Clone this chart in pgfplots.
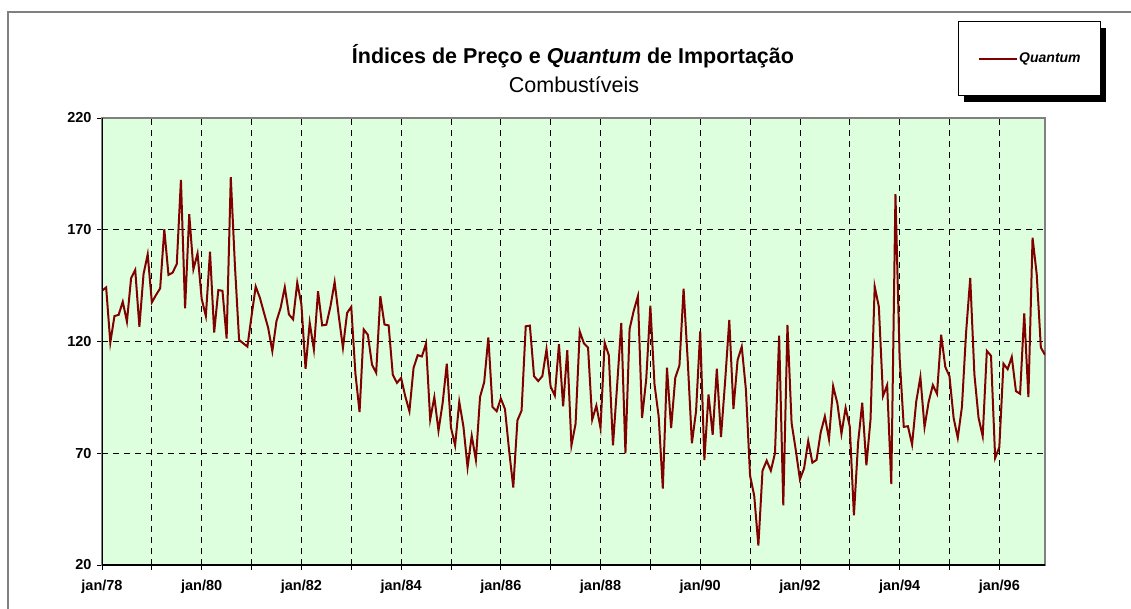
\documentclass[border=0pt]{standalone}
\usepackage{fontspec}
\setmainfont{Liberation Sans}
\usepackage{pgfplots}
\usepackage{pgfplotstable}
\pgfplotsset{compat=1.18}
\usetikzlibrary{shadows}
\definecolor{plotbg}{RGB}{221,255,221}
\definecolor{qred}{RGB}{128,0,0}
\definecolor{framegray}{RGB}{128,128,128}

% monthly index, jan/78 = 0
\pgfplotstableread{
m v
0 142.7
1 144.2
2 119.5
3 131.4
4 131.9
5 137.8
6 128.9
7 148.3
8 152.0
9 126.6
10 150.2
11 159.0
12 137.5
13 140.8
14 143.8
15 170.2
16 149.8
17 150.8
18 154.7
19 192.3
20 134.8
21 177.0
22 152.3
23 159.4
24 139.0
25 131.4
26 160.2
27 124.0
28 143.0
29 142.7
30 121.3
31 193.5
32 153.9
33 120.7
34 119.2
35 117.7
36 131.4
37 144.6
38 139.6
39 132.8
40 126.1
41 115.7
42 129.1
43 135.1
44 144.3
45 132.1
46 129.9
47 146.3
48 136.6
49 107.8
50 128.4
51 116.4
52 142.5
53 127.2
54 127.5
55 135.8
56 146.6
57 131.3
58 117.2
59 132.8
60 135.5
61 105.7
62 88.4
63 125.4
64 123.0
65 109.6
66 106.0
67 140.3
68 127.6
69 127.2
70 105.1
71 101.5
72 103.7
73 95.5
74 88.8
75 108.2
76 113.9
77 113.3
78 119.1
79 85.1
80 95.1
81 80.1
82 92.5
83 110.1
84 81.5
85 73.5
86 93.0
87 82.0
88 63.7
89 77.8
90 67.0
91 95.2
92 101.8
93 121.8
94 90.7
95 88.8
96 94.5
97 89.8
98 71.2
99 54.7
100 84.7
101 89.1
102 126.8
103 127.1
104 104.5
105 102.3
106 104.5
107 116.5
108 99.8
109 95.8
110 118.8
111 91.0
112 116.1
113 73.5
114 83.2
115 124.5
116 119.2
117 117.3
118 85.0
119 91.3
120 81.3
121 119.5
122 113.8
123 73.5
124 100.3
125 128.3
126 70.0
127 125.6
128 133.8
129 140.3
130 85.8
131 103.0
132 136.0
133 100.8
134 86.5
135 54.2
136 108.3
137 81.3
138 103.8
139 109.3
140 143.6
141 111.3
142 74.5
143 88.8
144 124.5
145 67.0
146 96.3
147 78.3
148 107.8
149 77.2
150 102.3
151 129.6
152 89.8
153 111.7
154 117.7
155 98.5
156 60.0
157 51.0
158 28.7
159 62.2
160 66.7
161 62.2
162 70.0
163 122.6
164 46.7
165 127.4
166 83.5
167 71.5
168 58.3
169 63.2
170 75.5
171 65.8
172 67.0
173 79.3
174 86.5
175 76.3
176 100.0
177 92.5
178 78.7
179 90.3
180 82.0
181 42.2
182 74.6
183 92.6
184 64.6
185 85.1
186 144.6
187 135.6
188 95.6
189 100.5
190 56.2
191 185.9
192 112.8
193 81.8
194 82.1
195 73.9
196 93.1
197 104.1
198 81.7
199 93.1
200 100.5
201 96.6
202 123.0
203 108.6
204 104.5
205 85.8
206 76.9
207 90.7
208 124.0
209 148.4
210 105.3
211 85.9
212 77.6
213 115.8
214 113.6
215 67.9
216 72.7
217 110.1
218 107.6
219 113.1
220 97.8
221 96.6
222 132.6
223 95.1
224 166.4
225 150.2
226 117.3
227 114.0
}\quantum

\begin{document}
\begin{tikzpicture}[x=1pt,y=1pt]
\useasboundingbox (0,0) rectangle (1131,608);
\draw[framegray, line width=1.5pt] (8,-5) -- (8,596) -- (1140,596);

\node[font=\bfseries\fontsize{21.5}{25}\selectfont] at (573,552) {Índices de Preço e \textit{Quantum} de Importação};
\node[font=\fontsize{21.5}{25}\selectfont] at (574,523) {Combustíveis};

\begin{axis}[
  at={(102pt,43pt)}, anchor=south west,
  scale only axis, width=943pt, height=447pt,
  xmin=0, xmax=227, ymin=20, ymax=220,
  ytick={20,70,120,170,220},
  xtick={0,12,...,216},
  xticklabels={jan/78,,jan/80,,jan/82,,jan/84,,jan/86,,jan/88,,jan/90,,jan/92,,jan/94,,jan/96},
  axis background/.style={fill=plotbg},
  grid=major,
  major grid style={black, dash pattern=on 6pt off 5pt, line width=0.8pt},
  axis line style={framegray, line width=1.5pt},
  tick style={black, line width=0.8pt},
  tick align=outside, major tick length=5pt,
  xtick pos=bottom, ytick pos=left,
  ticklabel style={font=\bfseries\fontsize{14.5}{16}\selectfont},
  xticklabel style={yshift=-6pt},
  yticklabel style={xshift=-2pt},
  /pgf/number format/assume math mode=true,
]
\addplot[qred, line width=2pt] table[x=m,y=v]{\quantum};
\draw[black, line width=1.5pt] (rel axis cs:0,1) -- (rel axis cs:0,0) -- (rel axis cs:1,0);
\end{axis}

% legend
\node[draw=black, line width=1pt, fill=white,
  drop shadow={shadow xshift=6pt, shadow yshift=-6pt, fill=black, opacity=1},
  minimum width=142pt, minimum height=74pt] at (1029,549) {};
\draw[qred, line width=2pt] (979,549) -- (1017,549);
\node[anchor=west, font=\bfseries\itshape\fontsize{14}{16}\selectfont, inner sep=2pt] at (1017,549) {Quantum};
\end{tikzpicture}
\end{document}
